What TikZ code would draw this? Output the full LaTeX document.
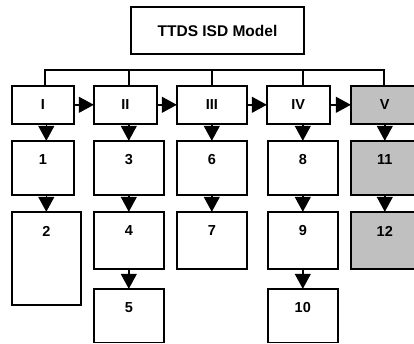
\documentclass[tikz,border=0pt]{standalone}
\usepackage{fontspec}
\setmainfont{Liberation Sans}
\usetikzlibrary{arrows.meta,calc}
\definecolor{boxgray}{RGB}{192,192,192}
\tikzset{
  bx/.style={draw=black, line width=1.6pt, fill=white, anchor=north west, inner sep=0pt},
  grayfill/.style={fill=boxgray},
  lbl/.style={font=\fontsize{14.5}{16}\selectfont\bfseries},
  arr/.style={line width=1.4pt, -{Triangle[length=15pt,width=16pt]}, shorten >=-0.8pt},
  bus/.style={line width=1.5pt}
}
% \mkbox[extra]{name}{x1}{y1}{x2}{y2}{label}
\newcommand{\mkbox}[7][]{%
  \pgfmathsetmacro{\bw}{#5-#3}\pgfmathsetmacro{\bh}{#6-#4}%
  \node[bx,#1,minimum width=\bw pt,minimum height=\bh pt,
        label={[lbl,anchor=center,yshift=-20pt]north:{#7}}] (#2) at (#3,#4) {};}
\begin{document}
\begin{tikzpicture}[x=1pt,y=-1pt]
\useasboundingbox (0,0) rectangle (414,343);
\clip (0,0) rectangle (414,343);
% title
\node[draw=black, line width=1.6pt, minimum width=173pt, minimum height=47pt, inner sep=0pt,
      font=\fontsize{15.5}{18}\selectfont\bfseries] (title) at (217.5,30.5) {TTDS ISD Model};
% row 1
\mkbox{I}{11}{85}{73}{123}{I}
\mkbox{II}{93}{85}{156}{123}{II}
\mkbox{III}{176}{85}{246}{123}{III}
\mkbox{IV}{266}{85}{329}{123}{IV}
\mkbox[grayfill]{V}{350}{85}{418}{123}{V}
% row 2
\mkbox{n1}{11}{140}{73}{194}{1}
\mkbox{n3}{93}{140}{163}{194}{3}
\mkbox{n6}{176}{140}{246}{194}{6}
\mkbox{n8}{267}{140}{337}{194}{8}
\mkbox[grayfill]{n11}{350}{140}{418}{194}{11}
% row 3
\mkbox{n2}{11}{211}{80}{304}{2}
\mkbox{n4}{93}{211}{163}{268}{4}
\mkbox{n7}{176}{211}{246}{268}{7}
\mkbox{n9}{267}{211}{337}{268}{9}
\mkbox[grayfill]{n12}{350}{211}{418}{268}{12}
% row 4
\mkbox{n5}{93}{288}{163}{341.5}{5}
\mkbox{n10}{267}{288}{337}{341.5}{10}
% bus
\coordinate (busL) at (45,70);
\coordinate (busR) at (384,70);
\draw[bus] (I.north -| busL) -- (busL) -- (busR) -- (V.north -| busR);
\draw[bus] (n3 |- busL) -- (n3 |- II.north);
\draw[bus] (n6 |- busL) -- (n6 |- III.north);
\draw[bus] (n8 |- busL) -- (n8 |- IV.north);
% horizontal arrows
\draw[arr] (I.east) -- (II.west);
\draw[arr] (II.east) -- (III.west);
\draw[arr] (III.east) -- (IV.west);
\draw[arr] (IV.east) -- (V.west);
% vertical arrows
\draw[arr] (I.south -| n2) -- (n1.north -| n2);
\draw[arr] (n1.south -| n2) -- (n2.north);
\draw[arr] (II.south -| n3) -- (n3.north);
\draw[arr] (n3.south) -- (n4.north);
\draw[arr] (n4.south) -- (n5.north);
\draw[arr] (III.south -| n6) -- (n6.north);
\draw[arr] (n6.south) -- (n7.north);
\draw[arr] (IV.south -| n8) -- (n8.north);
\draw[arr] (n8.south) -- (n9.north);
\draw[arr] (n9.south) -- (n10.north);
\draw[arr] (V.south) -- (n11.north);
\draw[arr] (n11.south) -- (n12.north);
\end{tikzpicture}
\end{document}
